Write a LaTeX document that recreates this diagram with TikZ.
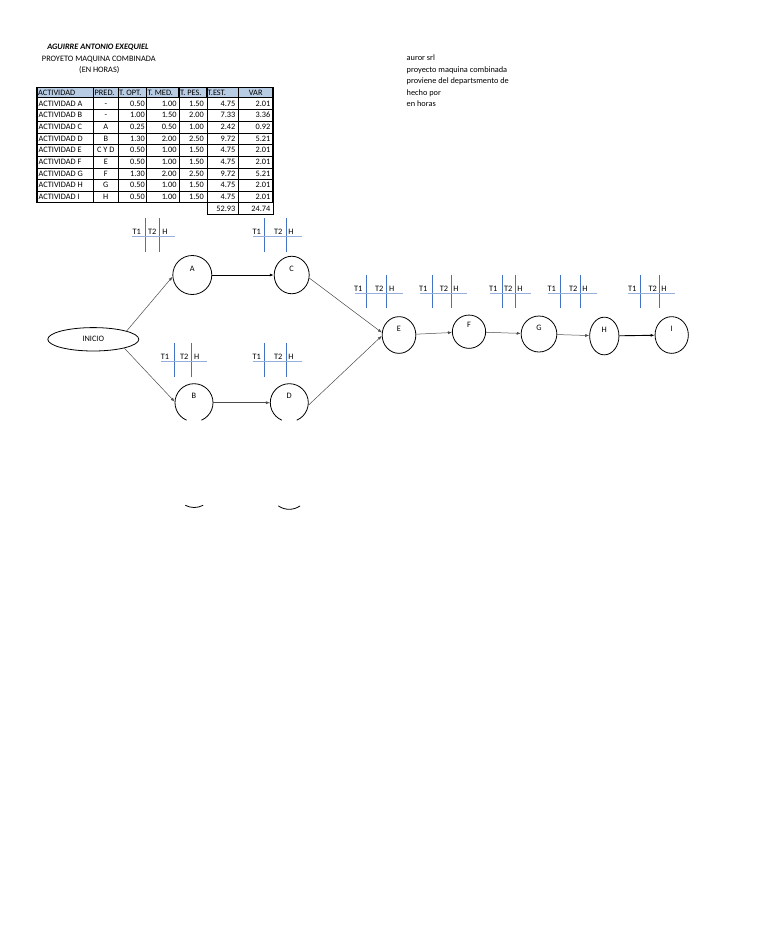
\documentclass[tikz,border=0pt]{standalone}
\usepackage{fontspec}
\setmainfont{Carlito}
\usetikzlibrary{arrows.meta,shapes.geometric}

\definecolor{hdrblue}{RGB}{184,204,228}
\definecolor{tblue}{RGB}{68,114,196}
\definecolor{tlight}{RGB}{150,175,222}

\tikzset{
  txt/.style={inner sep=0pt, text height=6.9pt, text depth=1.5pt},
  evt/.style n args={3}{ellipse, draw, line width=0.8pt, minimum width=#1pt, minimum height=#2pt,
    inner sep=0pt, label={[txt, yshift=6.5pt]center:#3}},
  arr/.style={-{Latex[length=4pt,width=3pt]}, black!70, line width=0.5pt},
  arrthick/.style={arr, black, line width=0.9pt},
}

\begin{document}
\begin{tikzpicture}[x=1pt, y=-1pt, font=\fontsize{8.3}{10}\selectfont]
  \useasboundingbox (0,0) rectangle (768,932);
  \fill[white] (0,0) rectangle (768,932);

  % Titles
  \node[txt, font=\fontsize{8.3}{10}\selectfont\bfseries\itshape] (autor) at (98,46.7) {AGUIRRE ANTONIO EXEQUIEL};
  \node[txt] (proyecto) at (98.8,58.3) {PROYETO MAQUINA COMBINADA};
  \node[txt] (horas) at (99.3,69.3) {(EN HORAS)};

  % Notes
  \foreach \t [count=\i] in {auror srl, proyecto maquina combinada, proviene del departsmento de, hecho por, en horas}
    \node[txt, anchor=west] (nota\i) at (406.5,46.5+\i*11.5) {\t};

  % Table: grid
  \fill[hdrblue] (37,87.3) rectangle (273,97.7);
  \foreach \x in {93.3,118.3,146.5,179,207,238.5}
    \draw[line width=0.4pt] (\x,97.7) -- (\x,202.7);
  \foreach \i in {1,...,8}
    \draw[line width=0.4pt] (37,97.7+\i*11.67) -- (273,97.7+\i*11.67);
  \foreach \a/\b in {37/93.3, 93.3/118.3, 118.3/146.5, 146.5/179, 179/207, 207/238.5, 238.5/273}
    \draw[line width=1.1pt] (\a,87.3) rectangle (\b,97.7);
  \draw[line width=1.1pt] (37,87.3) rectangle (273,202.7);
  \draw[line width=0.7pt] (207,202.7) rectangle (238.5,214.4) (238.5,202.7) rectangle (273,214.4);

  % Table: header
  \foreach \x/\t [count=\i] in {38/ACTIVIDAD, 94.5/PRED., 119/T. OPT., 147.5/T. MED., 180/T. PES., 207.5/T.EST.}
    \node[txt, anchor=west] (cab\i) at (\x,92.5) {\t};
  \node[txt] (cab7) at (255.7,92.5) {VAR};

  % Table: rows
  \foreach \ac/\pr/\op/\me/\pe/\es/\va [count=\i] in {A/-/0.50/1.00/1.50/4.75/2.01, B/-/1.00/1.50/2.00/7.33/3.36,
      C/A/0.25/0.50/1.00/2.42/0.92, D/B/1.30/2.00/2.50/9.72/5.21, E/C Y D/0.50/1.00/1.50/4.75/2.01,
      F/E/0.50/1.00/1.50/4.75/2.01, G/F/1.30/2.00/2.50/9.72/5.21, H/G/0.50/1.00/1.50/4.75/2.01,
      I/H/0.50/1.00/1.50/4.75/2.01} {
    \pgfmathsetmacro{\y}{97.7+(\i-0.5)*11.67}
    \node[txt, anchor=west] (act\i) at (38.5,\y) {ACTIVIDAD \ac};
    \node[txt] (pred\i) at (105.8,\y) {\pr};
    \node[txt, anchor=east] (opt\i) at (145,\y) {\op};
    \node[txt, anchor=east] (med\i) at (176.7,\y) {\me};
    \node[txt, anchor=east] (pes\i) at (204,\y) {\pe};
    \node[txt, anchor=east] (est\i) at (235.5,\y) {\es};
    \node[txt, anchor=east] (var\i) at (270.5,\y) {\va};
  }
  \node[txt, anchor=east] (totest) at (235.5,208.6) {52.93};
  \node[txt, anchor=east] (totvar) at (270.5,208.6) {24.74};

  % Network
  \node[ellipse, draw, line width=0.8pt, minimum width=91pt, minimum height=23.4pt, inner sep=0pt] (inicio) at (93.3,339.3) {INICIO};
  \node[evt={39}{39}{A}] (A) at (192.3,275) {};
  \node[evt={35}{37.5}{C}] (C) at (291.7,275) {};
  \node[evt={38}{38}{B}, draw=none] (B) at (194,402.7) {};
  \node[evt={38}{38}{D}, draw=none] (D) at (289.3,402.7) {};
  \node[evt={33.7}{36.7}{E}] (E) at (399,335) {};
  \node[evt={33.3}{33.3}{F}] (F) at (469,331.7) {};
  \node[evt={35.7}{36}{G}] (G) at (539,334) {};
  \node[evt={29.3}{37.7}{H}] (H) at (604.3,336) {};
  \node[evt={33.3}{36.7}{I}] (I) at (671.7,335) {};

  % B and D cut at the bottom, their ends further down
  \draw[line width=0.8pt] ([shift={(-67:19pt)}]B.center) arc[start angle=-67, end angle=247, radius=19pt];
  \draw[line width=0.8pt] ([shift={(-67:19pt)}]D.center) arc[start angle=-67, end angle=247, radius=19pt];
  \draw[line width=0.8pt] ([shift={(242:19pt)}]194.2,488.5) arc[start angle=242, end angle=298, radius=19pt];
  \draw[line width=0.8pt] ([shift={(235:19pt)}]289.2,490.3) arc[start angle=235, end angle=305, radius=19pt];

  % T1 T2 H marks
  \foreach \n/\y/\ta/\la/\tb/\lb/\xh/\xl/\xr in {A/231.7/136.7/145/152.3/159/165/131.7/175,
      C/231.7/256.7/264.3/278.3/286/291/252.7/301.7, B/356.7/165/174/184.3/191.7/196.7/161/206.7,
      D/356.7/256.7/264.3/278.3/286/291/252.7/301.7, E/288.3/358.3/366.7/379.3/386.7/391.7/355/402.7,
      F/288.3/423.3/432.3/444/451.3/456/420/466.7, G/288.3/493.3/502.3/508.3/515.3/520/490/530.7,
      H/288.3/551.7/560/573.3/580/585/548.3/596.7, I/288.3/632.3/640.7/652.7/659.3/664/628.3/675} {
    \node[txt] (t1\n) at (\ta,\y) {T1};
    \node[txt] (t2\n) at (\tb,\y) {T2};
    \node[txt] (h\n) at (\xh,\y) {H};
    \draw[tblue, line width=0.9pt] (\la,\y-13.7) -- (\la,\y+20);
    \draw[tblue, line width=0.9pt] (\lb,\y-13.7) -- (\lb,\y+20);
    \draw[tlight, line width=0.8pt] (\xl,\y+5) -- (\xr,\y+5);
  }

  % Connectors
  \draw[arr] (inicio.14) -- (A.185);
  \draw[arr] (inicio.-16) -- (B.177);
  \draw[arrthick] (A) -- (C);
  \draw[arr] (B) -- (D);
  \draw[arr] (C.-10) -- (E.172);
  \draw[arr] (D.-7) -- (E.183);
  \draw[arr] (E) -- (F);
  \draw[arr] (F) -- (G);
  \draw[arr] (G) -- (H);
  \draw[arrthick] (H) -- (I);
\end{tikzpicture}
\end{document}
